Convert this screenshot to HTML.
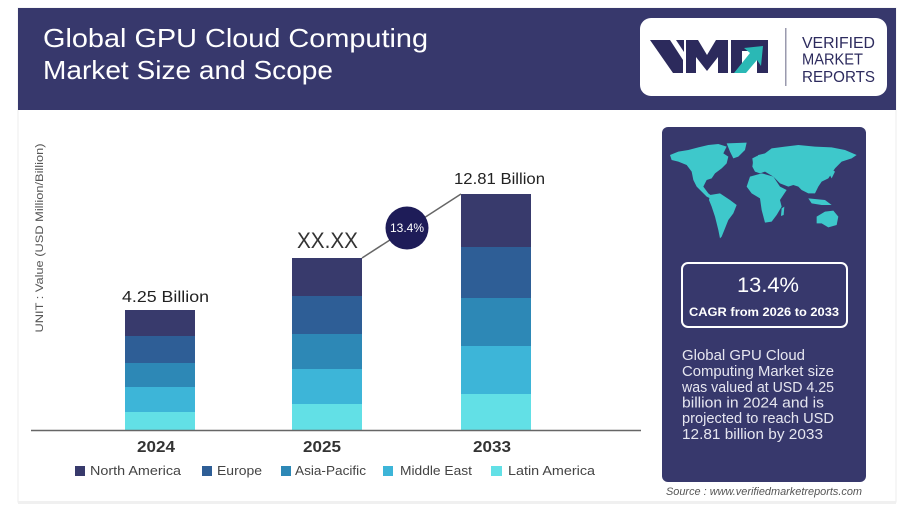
<!DOCTYPE html>
<html>
<head>
<meta charset="utf-8">
<style>
html,body{margin:0;padding:0;background:#fff;}
svg{display:block;}
text{font-family:"Liberation Sans",sans-serif;}
</style>
</head>
<body>
<svg width="913" height="511" viewBox="0 0 913 511" xmlns="http://www.w3.org/2000/svg">
  <!-- card -->
  <rect x="0" y="0" width="913" height="511" fill="#ffffff"/>
  <rect x="18" y="8" width="878" height="494" fill="#ffffff" stroke="#ececec" stroke-width="1"/>
  <rect x="18" y="501" width="878" height="3" fill="#f0f0f0"/>
  <!-- header -->
  <rect x="18" y="8" width="878" height="102" fill="#37386c"/>
  <text x="43" y="47" font-size="26" fill="#ffffff" textLength="385" lengthAdjust="spacingAndGlyphs">Global GPU Cloud Computing</text>
  <text x="43" y="79" font-size="26" fill="#ffffff" textLength="290" lengthAdjust="spacingAndGlyphs">Market Size and Scope</text>
  <!-- logo box -->
  <rect x="640" y="18" width="247" height="78" rx="11" fill="#ffffff"/>
  <g fill="#2c2a5c">
    <polygon points="650,40 670,40 683,60 683,73 673,73"/>
    <polygon points="676,40 684,40 684,52"/>
    <polygon points="686,73 686,40 698,40 707,55 716,40 728,40 728,73 718,73 718,57 707,71 696,57 696,73"/>
    <polygon points="731,40 768,40 768,73 757,73 757,51 742,51 742,73 731,73"/>
  </g>
  <polygon points="734,73 746,73 757,60 761,66 763,46 744,48 750,53" fill="#2ab8b5"/>
  <rect x="785" y="28" width="1.5" height="58" fill="#9a9aae"/>
  <g fill="#2d2b5e" font-size="16">
    <text x="802" y="48" textLength="73" lengthAdjust="spacingAndGlyphs">VERIFIED</text>
    <text x="802" y="64.5" textLength="61" lengthAdjust="spacingAndGlyphs">MARKET</text>
    <text x="802" y="82" textLength="73" lengthAdjust="spacingAndGlyphs">REPORTS</text>
  </g>

  <!-- y axis label -->
  <text transform="translate(43,238) rotate(-90)" text-anchor="middle" font-size="11" fill="#555" textLength="189" lengthAdjust="spacingAndGlyphs">UNIT : Value (USD Million/Billion)</text>

  <!-- bars 2024 -->
  <rect x="125" y="310" width="70" height="26" fill="#383a6c"/>
  <rect x="125" y="336" width="70" height="27" fill="#2e5e96"/>
  <rect x="125" y="363" width="70" height="24" fill="#2d88b6"/>
  <rect x="125" y="387" width="70" height="25" fill="#3db5d8"/>
  <rect x="125" y="412" width="70" height="18" fill="#62e0e6"/>
  <!-- bars 2025 -->
  <rect x="292" y="258" width="70" height="38" fill="#383a6c"/>
  <rect x="292" y="296" width="70" height="38" fill="#2e5e96"/>
  <rect x="292" y="334" width="70" height="35" fill="#2d88b6"/>
  <rect x="292" y="369" width="70" height="35" fill="#3db5d8"/>
  <rect x="292" y="404" width="70" height="26" fill="#62e0e6"/>
  <!-- bars 2033 -->
  <rect x="461" y="194" width="70" height="53" fill="#383a6c"/>
  <rect x="461" y="247" width="70" height="51" fill="#2e5e96"/>
  <rect x="461" y="298" width="70" height="48" fill="#2d88b6"/>
  <rect x="461" y="346" width="70" height="48" fill="#3db5d8"/>
  <rect x="461" y="394" width="70" height="36" fill="#62e0e6"/>

  <!-- axis -->
  <line x1="31" y1="430.5" x2="641" y2="430.5" stroke="#666" stroke-width="1.5"/>

  <!-- value labels -->
  <text x="165.5" y="302" text-anchor="middle" font-size="16" fill="#222" textLength="87" lengthAdjust="spacingAndGlyphs">4.25 Billion</text>
  <text x="327.5" y="248" text-anchor="middle" font-size="22" fill="#333" textLength="61" lengthAdjust="spacingAndGlyphs">XX.XX</text>
  <text x="499.5" y="184" text-anchor="middle" font-size="16" fill="#222" textLength="91" lengthAdjust="spacingAndGlyphs">12.81 Billion</text>

  <!-- connector + circle -->
  <line x1="362" y1="258" x2="461" y2="194" stroke="#666" stroke-width="1.5"/>
  <circle cx="407" cy="228" r="21.5" fill="#1e1c58"/>
  <text x="407" y="232" text-anchor="middle" font-size="12" fill="#ffffff" textLength="34" lengthAdjust="spacingAndGlyphs">13.4%</text>

  <!-- year labels -->
  <g font-size="16" font-weight="bold" fill="#333" text-anchor="middle">
    <text x="156" y="452" textLength="38" lengthAdjust="spacingAndGlyphs">2024</text>
    <text x="322" y="452" textLength="38" lengthAdjust="spacingAndGlyphs">2025</text>
    <text x="492" y="452" textLength="38" lengthAdjust="spacingAndGlyphs">2033</text>
  </g>

  <!-- legend -->
  <rect x="75" y="466" width="10" height="10" fill="#383a6c"/>
  <rect x="202" y="466" width="10" height="10" fill="#2e5e96"/>
  <rect x="281" y="466" width="10" height="10" fill="#2d88b6"/>
  <rect x="383" y="466" width="10" height="10" fill="#3db5d8"/>
  <rect x="491" y="466" width="11" height="10" fill="#62e0e6"/>
  <g font-size="13" fill="#444">
    <text x="90" y="475" textLength="91" lengthAdjust="spacingAndGlyphs">North America</text>
    <text x="217" y="475" textLength="45" lengthAdjust="spacingAndGlyphs">Europe</text>
    <text x="295" y="475" textLength="71" lengthAdjust="spacingAndGlyphs">Asia-Pacific</text>
    <text x="400" y="475" textLength="72" lengthAdjust="spacingAndGlyphs">Middle East</text>
    <text x="508" y="475" textLength="87" lengthAdjust="spacingAndGlyphs">Latin America</text>
  </g>

  <!-- right panel -->
  <rect x="662" y="127" width="204" height="355" rx="6" fill="#37386c"/>
  <!-- map -->
  <g transform="translate(665,140) scale(0.3333)" fill="#3ec8cb">
    <polygon points="15,45 40,35 70,30 100,22 130,15 160,12 185,20 175,40 190,50 185,70 170,85 150,100 140,115 125,120 115,140 130,160 150,175 145,180 125,170 110,155 95,140 85,120 80,95 65,75 40,65 20,60"/>
    <polygon points="185,10 245,8 240,30 220,50 205,55 195,35"/>
    <polygon points="135,165 165,160 195,180 215,195 205,220 190,240 180,265 170,290 165,295 160,270 150,230 140,200 132,180"/>
    <polygon points="265,60 280,45 300,40 320,25 360,20 400,15 450,20 500,22 540,30 575,45 560,55 530,65 510,85 500,100 490,115 470,125 460,140 450,160 430,160 410,150 400,140 385,135 370,140 345,130 325,110 300,95 285,100 270,95 262,80"/>
    <polygon points="255,110 290,100 325,110 345,140 365,150 345,180 350,200 335,225 320,245 300,248 290,210 285,175 260,160 245,140"/>
    <polygon points="455,230 480,215 505,212 520,230 515,255 490,262 470,250 455,250"/>
    <polygon points="430,175 480,180 500,195 470,195 440,190"/>
    <polygon points="495,85 510,95 500,115 492,100"/>
    <polygon points="262,55 276,48 276,72 264,70"/>
    <polygon points="350,205 358,200 356,225 348,228"/>
  </g>
  <!-- CAGR box -->
  <rect x="682" y="263" width="165" height="64" rx="6" fill="none" stroke="#ffffff" stroke-width="2"/>
  <text x="768" y="292" text-anchor="middle" font-size="21" fill="#ffffff" textLength="62" lengthAdjust="spacingAndGlyphs">13.4%</text>
  <text x="764" y="316" text-anchor="middle" font-size="12" font-weight="bold" fill="#ffffff" textLength="150" lengthAdjust="spacingAndGlyphs">CAGR from 2026 to 2033</text>
  <!-- paragraph -->
  <g font-size="14.5" fill="#e6e6f0">
    <text x="682" y="360" textLength="123" lengthAdjust="spacingAndGlyphs">Global GPU Cloud</text>
    <text x="682" y="376" textLength="152" lengthAdjust="spacingAndGlyphs">Computing Market size</text>
    <text x="682" y="392" textLength="152" lengthAdjust="spacingAndGlyphs">was valued at USD 4.25</text>
    <text x="682" y="407.5" textLength="142" lengthAdjust="spacingAndGlyphs">billion in 2024 and is</text>
    <text x="682" y="423" textLength="152" lengthAdjust="spacingAndGlyphs">projected to reach USD</text>
    <text x="682" y="439" textLength="141" lengthAdjust="spacingAndGlyphs">12.81 billion by 2033</text>
  </g>
  <!-- source -->
  <text x="666" y="495" font-size="11" font-style="italic" fill="#555" textLength="196" lengthAdjust="spacingAndGlyphs">Source : www.verifiedmarketreports.com</text>
</svg>
</body>
</html>
